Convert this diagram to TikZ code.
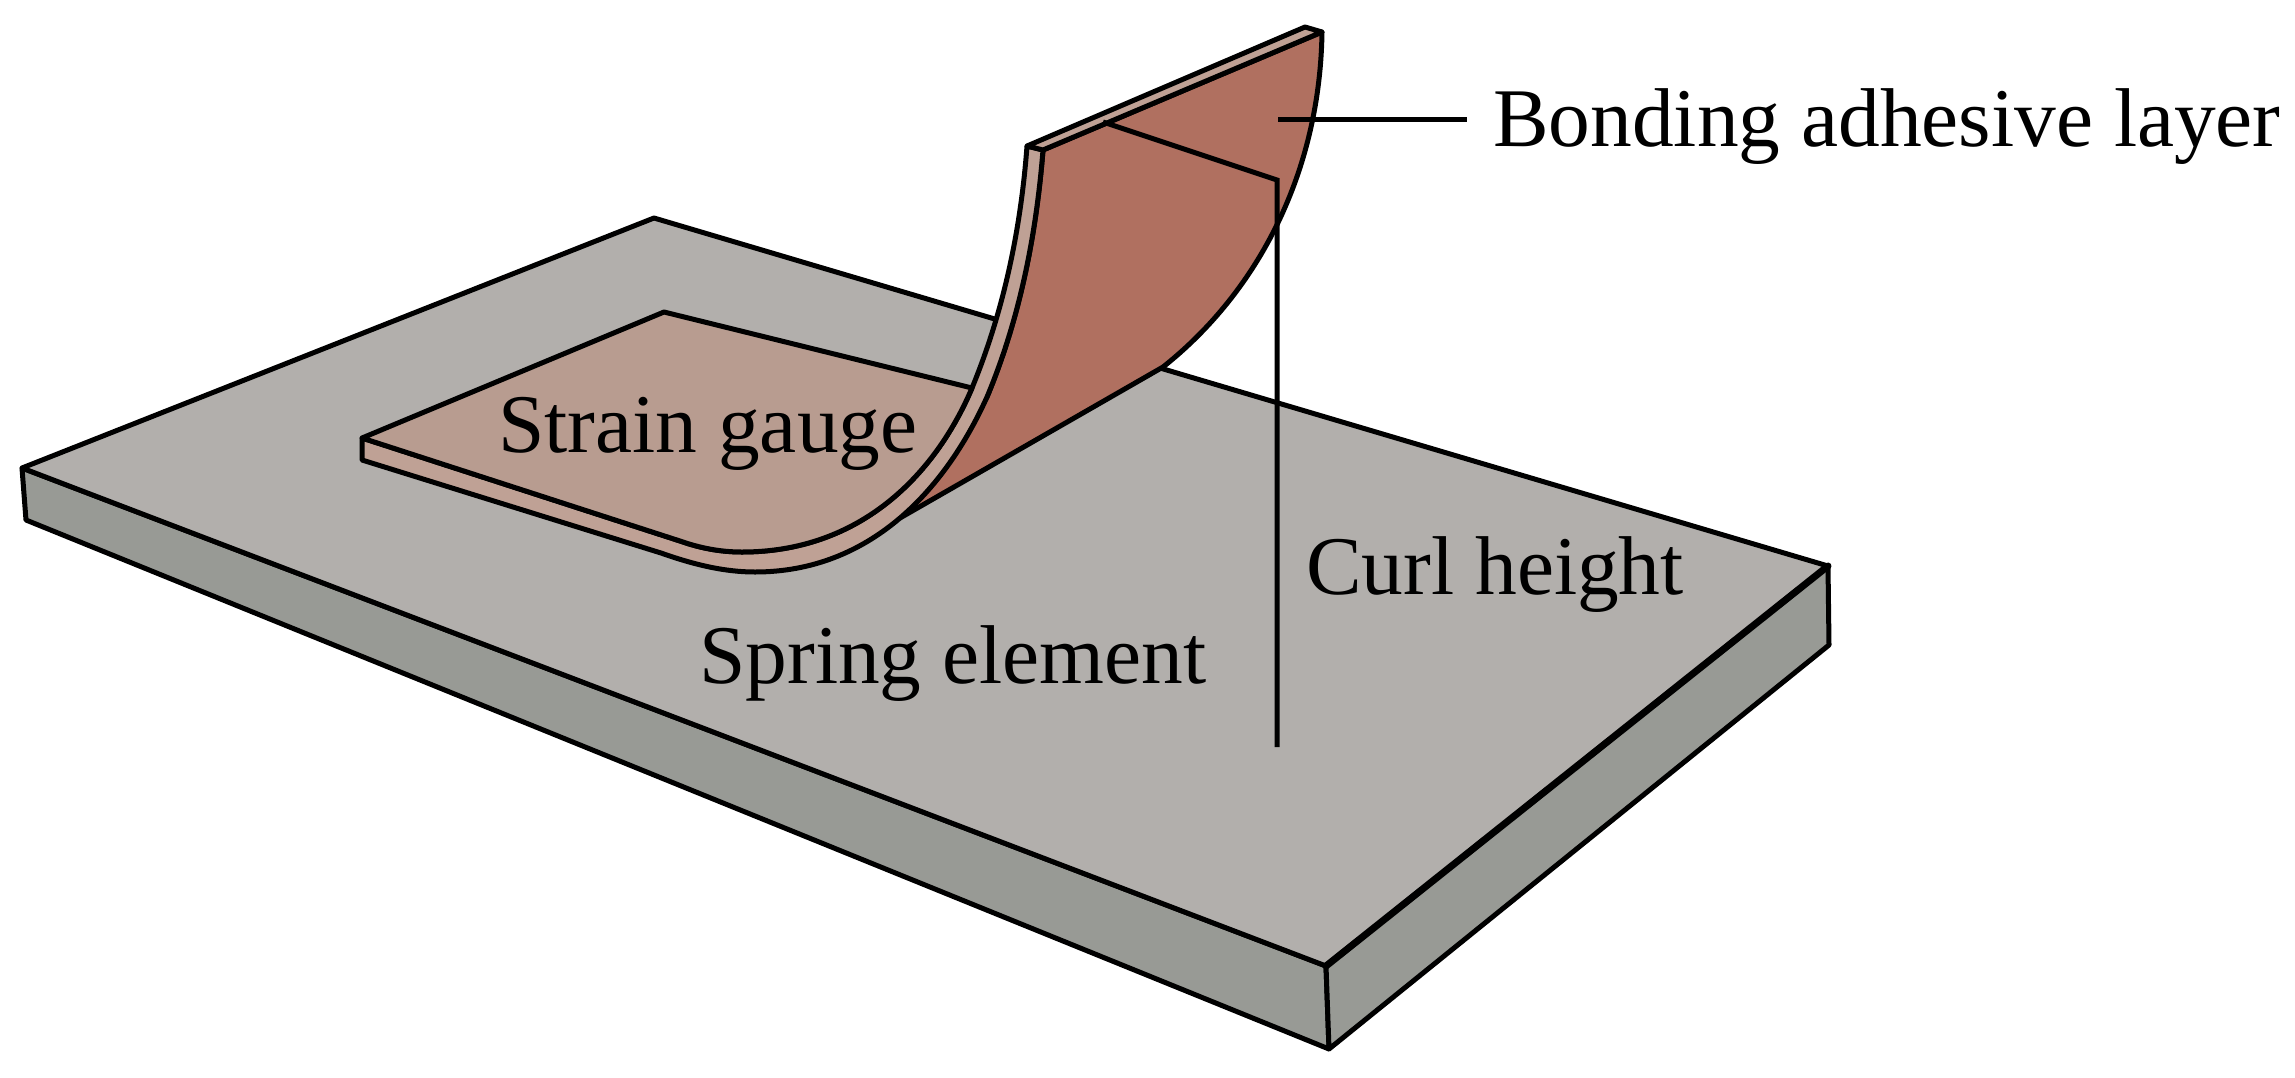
\documentclass[tikz,border=0pt]{standalone}
\usepackage{fontspec}
\setmainfont{Liberation Serif}
\definecolor{plateTop}{HTML}{B2AFAC}
\definecolor{plateSide}{HTML}{989A95}
\definecolor{gaugeTop}{HTML}{B89C90}
\definecolor{stripC}{HTML}{BFA195}
\definecolor{adhesive}{HTML}{B07060}
\tikzset{
  edge/.style={draw=black,line width=5pt,line join=round},
  leader/.style={draw=black,line width=5pt},
  lbl/.style={font=\fontsize{83.4}{84}\selectfont,text=black,inner sep=0pt,anchor=base west}
}
\begin{document}
\begin{tikzpicture}[x=1pt,y=-1pt]
\useasboundingbox (0,0) rectangle (2295,1077);
% plate
\path[edge,fill=plateSide] (22,468) -- (26,520) -- (1329,1049) -- (1326,966) -- cycle;
\path[edge,fill=plateSide] (1326,966) -- (1329,1049) -- (1829,645) -- (1828,566) -- cycle;
\path[edge,fill=plateTop] (22,468) -- (654,218) -- (1828,566) -- (1326,966) -- cycle;
\draw[line width=7pt,line cap=round] (1326,966) -- (1828,566);
% adhesive
\path[edge,fill=adhesive] (900,518) -- (1163,367)
  .. controls (1260,290) and (1320,170) .. (1322,32)
  -- (1043,150)
  .. controls (1035,250) and (1015,330) .. (987,397)
  -- (935,470) -- cycle;
% gauge side and strip
\path[edge,fill=stripC] (362,438) -- (362,460) -- (661,553)
  .. controls (695,565) and (725,572) .. (755,572)
  .. controls (870,572) and (945,490) .. (987,397)
  .. controls (1015,330) and (1035,250) .. (1043,150)
  -- (1027,146)
  .. controls (1020,240) and (1000,320) .. (972,388)
  .. controls (935,475) and (860,552) .. (742,552)
  .. controls (720,552) and (700,548) .. (680,541)
  -- cycle;
% gauge top
\path[edge,fill=gaugeTop] (362,438) -- (664,312) -- (972,388)
  .. controls (935,475) and (860,552) .. (742,552)
  .. controls (720,552) and (700,548) .. (680,541)
  -- cycle;
% strip top face
\path[edge,fill=stripC] (1027,146) -- (1305,27) -- (1322,32) -- (1043,150) -- cycle;
% leaders
\coordinate (hA) at (1278,119);
\coordinate (hB) at (1467,119);
\coordinate (cA) at (1103,122);
\coordinate (cB) at (1277,180);
\coordinate (cC) at (1277,747);
\draw[leader] (hA) -- (hB);
\draw[leader,line join=miter] (cA) -- (cB) -- (cC);
% labels
\node[lbl] (bond) at (1493,146) {Bonding adhesive layer};
\node[lbl] (gauge) at (498,452) {Strain gauge};
\node[lbl] (curl) at (1306,594) {Curl height};
\node[lbl] (spring) at (699,683) {Spring element};
\end{tikzpicture}
\end{document}
